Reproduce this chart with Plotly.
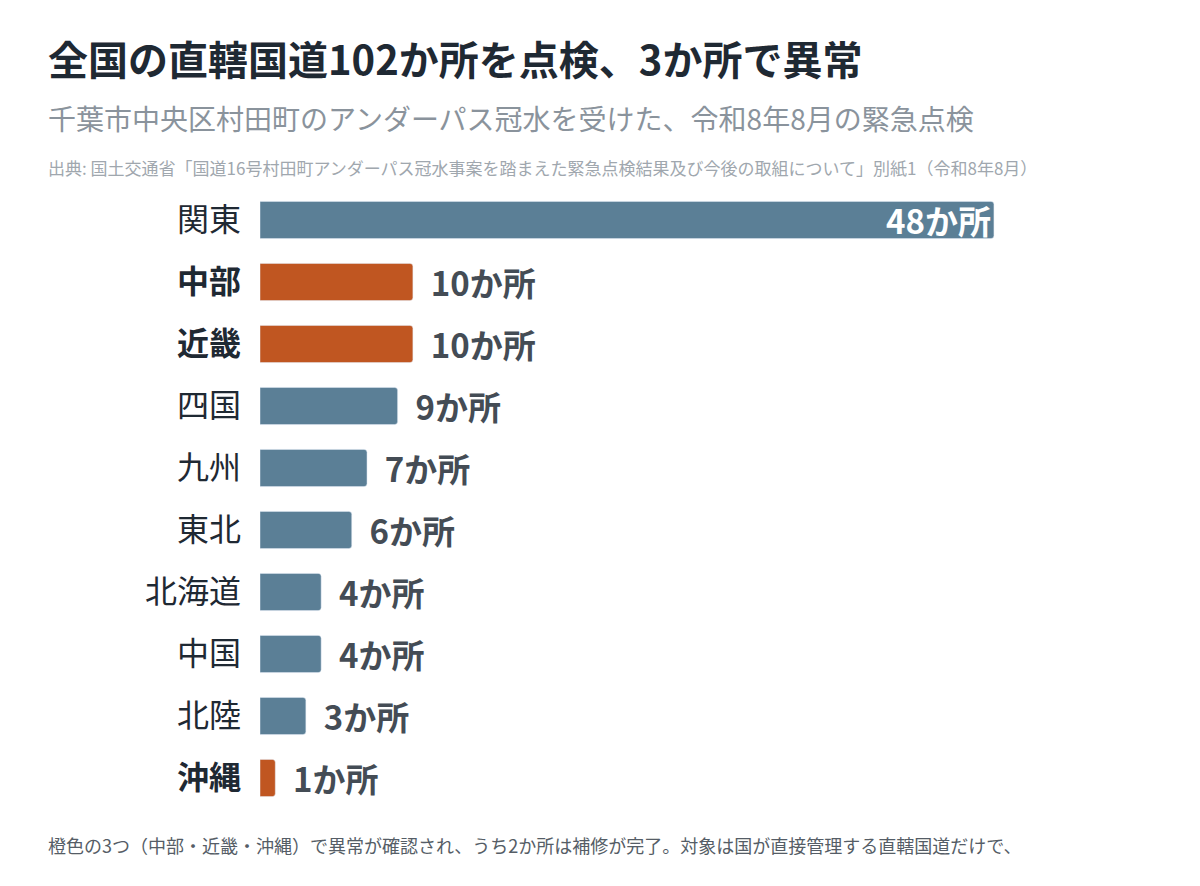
import plotly.graph_objects as go

regions = ["関東", "中部", "近畿", "四国", "九州", "東北", "北海道", "中国", "北陸", "沖縄"]
counts = [48, 10, 10, 9, 7, 6, 4, 4, 3, 1]
anomaly = [False, True, True, False, False, False, False, False, False, True]

BLUE = "#5b7f96"
ORANGE = "#c05621"
colors = [ORANGE if a else BLUE for a in anomaly]
ticktext = [f"<b>{r}</b>" if a else r for r, a in zip(regions, anomaly)]
labels = [f"{c}か所" for c in counts]
positions = ["inside" if c == max(counts) else "outside" for c in counts]
tcolors = ["white" if c == max(counts) else "#444c55" for c in counts]

OFF = 8
FONT = "Noto Sans CJK JP"
fig = go.Figure(go.Bar(
    x=counts, y=regions, orientation="h", width=0.6,
    marker=dict(color=colors, cornerradius=3),
    text=[f"<b>{l}</b>" if c == max(counts) else f"  <b>{l}</b>" for l, c in zip(labels, counts)],
    textposition=positions, constraintext="none",
    insidetextanchor="end", cliponaxis=False,
    textfont=dict(size=33, color=tcolors, family=FONT),
    outsidetextfont=dict(size=33, color=tcolors, family=FONT),
    insidetextfont=dict(size=33, color="white", family=FONT),
))
fig.update_layout(
    width=1200, height=886, plot_bgcolor="white", paper_bgcolor="white",
    margin=dict(l=260 - OFF, r=0, t=189 - OFF, b=77 + OFF), showlegend=False,
    font=dict(family=FONT),
    xaxis=dict(range=[0, 62], visible=False),
    yaxis=dict(autorange="reversed", tickmode="array", tickvals=regions, ticktext=ticktext,
               tickfont=dict(size=32, color="#1f2933"), ticks="", showgrid=False,
               ticklabelstandoff=18),
    annotations=[
        dict(text="<b>全国の直轄国道102か所を点検、3か所で異常</b>", x=48, y=58,
             showarrow=False, font=dict(size=40, color="#1f2933")),
        dict(text="千葉市中央区村田町のアンダーパス冠水を受けた、令和8年8月の緊急点検", x=48, y=118,
             showarrow=False, font=dict(size=28, color="#8a939c")),
        dict(text="出典: 国土交通省「国道16号村田町アンダーパス冠水事案を踏まえた緊急点検結果及び今後の取組について」別紙1（令和8年8月）", x=48, y=167,
             showarrow=False, font=dict(size=17, color="#a0a7ae")),
        dict(text="橙色の3つ（中部・近畿・沖縄）で異常が確認され、うち2か所は補修が完了。対象は国が直接管理する直轄国道だけで、", x=48, y=845,
             showarrow=False, font=dict(size=18, color="#555d66")),
    ],
)
for a in fig.layout.annotations:
    a.xref = "paper"; a.yref = "paper"
    px, py = a.x - OFF, a.y - OFF
    a.x = (px - (260 - OFF)) / 940
    a.y = (886 - 77 - OFF - py) / 620
    a.xanchor = "left"; a.yanchor = "middle"
fig.write_html("out.html")
